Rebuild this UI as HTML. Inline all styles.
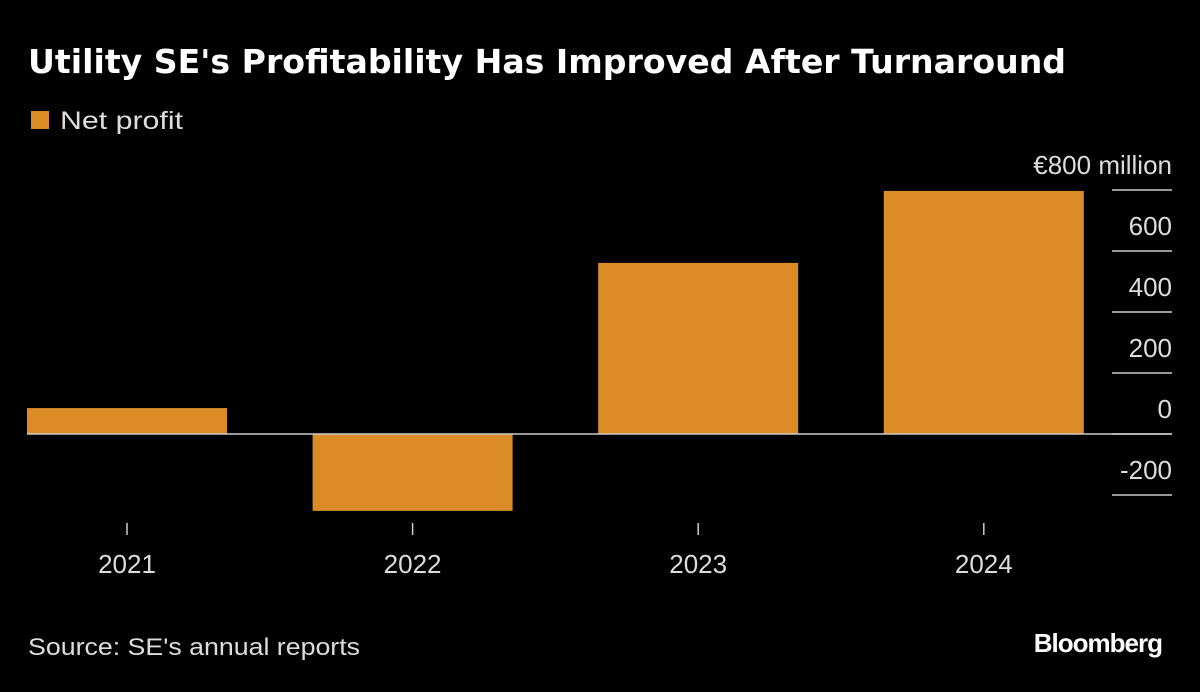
<!DOCTYPE html>
<html><head><meta charset="utf-8"><style>
body{margin:0;background:#000;width:1200px;height:687px;overflow:hidden;font-family:"Liberation Sans",sans-serif;color:#fff}
</style></head><body>
<svg width="1200" height="687">
<text x="28" y="73" font-size="33" font-weight="bold" fill="#fff" textLength="1038" lengthAdjust="spacingAndGlyphs" font-family="DejaVu Sans, sans-serif">Utility SE's Profitability Has Improved After Turnaround</text>
<rect x="31" y="111" width="18" height="18" fill="#dc8c26"/>
<text x="60" y="129" font-size="25" fill="#ddd" textLength="123" lengthAdjust="spacingAndGlyphs">Net profit</text>
<g id="grid"></g><g id="bars"></g><g id="xaxis"></g>
<text x="28" y="655" font-size="24" fill="#ddd" textLength="332" lengthAdjust="spacingAndGlyphs">Source: SE's annual reports</text>
<text x="1162" y="652" font-size="26" font-weight="bold" fill="#fff" text-anchor="end" letter-spacing="-1">Bloomberg</text>
</svg>
<script>
const categories=["2021","2022","2023","2024"];
const values=[85,-252,561,797];
const ticks=[800,600,400,200,0,-200];
const tickLabels=["€800  million","600","400","200","0","-200"];
const ns="http://www.w3.org/2000/svg";
const y=v=>434-v*61/200;
const x=i=>127+i*285.6;
function mk(t,a,p){const e=document.createElementNS(ns,t);for(const k in a)e.setAttribute(k,a[k]);p.appendChild(e);return e;}
const g=document.getElementById('grid'),b=document.getElementById('bars'),xa=document.getElementById('xaxis');
ticks.forEach((t,i)=>{
 const l=mk('line',{x1:1112,x2:1172,y1:y(t),y2:y(t),stroke:'#ccc','stroke-width':1.5},g);
 
 
 const tx=mk('text',{x:1172,y:y(t)-16,'font-size':26,fill:'#ddd','text-anchor':'end'},g);
 tx.textContent=tickLabels[i];
 
 
});
categories.forEach((c,i)=>{
 const v=values[i];
 const r=mk('rect',{x:x(i)-100,width:200,y:Math.min(y(v),y(0)),height:Math.abs(y(v)-y(0)),fill:'#dc8c26'},b);
 
 
 const tk=mk('line',{x1:x(i),x2:x(i),y1:523,y2:535,stroke:'#ccc','stroke-width':1.5},xa);
 
 
 const t=mk('text',{x:x(i),y:573,'font-size':26,fill:'#ddd','text-anchor':'middle'},xa);
 t.textContent=c;
 
 
});
const z=mk('line',{x1:27,x2:1172,y1:y(0),y2:y(0),stroke:'#ccc','stroke-width':1.5},xa);


</script>
</body></html>
